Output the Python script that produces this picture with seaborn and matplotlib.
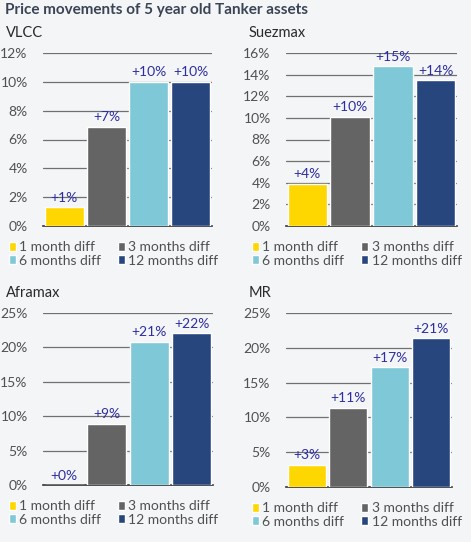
import seaborn as sns
import matplotlib.pyplot as plt
import matplotlib.ticker as ticker
from matplotlib.patches import Patch
import pandas as pd

TITLE = "Price movements of 5 year old Tanker assets"
periods = ["1 month diff", "3 months diff", "6 months diff", "12 months diff"]
colors = ["#ffd700", "#646464", "#7ec8d8", "#27467e"]

vessels = ["VLCC", "Suezmax", "Aframax", "MR"]
vlcc = [1.3, 6.9, 10.0, 10.0]
suezmax = [3.9, 10.1, 14.8, 13.5]
aframax = [0.0, 8.9, 20.8, 22.1]
mr = [3.2, 11.4, 17.2, 21.4]
ymax = [12, 16, 25, 25]
ystep = [2, 2, 5, 5]

BG = "#f3f5f7"
W, H = 471, 542


def panel(fig, box, name, values, top, step):
    # box = (left, top, right, bottom) in pixels
    l, t, r, b = box
    ax = fig.add_axes([l / W, 1 - b / H, (r - l) / W, (b - t) / H])
    ax.set_facecolor(BG)
    df = pd.DataFrame({"period": periods, "value": values})
    sns.barplot(df, x="period", y="value", hue="period", palette=colors,
                saturation=1, width=0.92, legend=False, ax=ax, zorder=3)
    ax.set_xlim(-0.5, 3.5)
    ax.set_ylim(0, top)
    ax.yaxis.set_major_locator(ticker.MultipleLocator(step))
    ax.yaxis.set_major_formatter(lambda y, _: f"{y:.0f}%")
    ax.grid(axis="y", color="#707070", linewidth=0.9, zorder=0)
    ax.set_axisbelow(True)
    for s in ["left", "right", "top"]:
        ax.spines[s].set_visible(False)
    ax.spines["bottom"].set_color("#333333")
    ax.spines["bottom"].set_linewidth(1.2)
    ax.set_xticks([])
    ax.set_xlabel("")
    ax.set_ylabel("")
    ax.tick_params(axis="y", length=0, labelsize=10, labelcolor="#505050",
                   pad=11)
    for i, v in enumerate(values):
        ax.text(i, v + top * 0.02, f"+{v:.0f}%", ha="center", va="bottom",
                fontsize=10, color="#2e2ea0")
    fig.text((l - 37) / W, 1 - (t - 13) / H, name, fontsize=10.5,
             color="#2a2a2a", ha="left", va="bottom")
    # legend fills column-wise, so order entries to read row by row
    order = [0, 2, 1, 3]
    handles = [Patch(facecolor=colors[i], label=periods[i]) for i in order]
    leg = fig.legend(handles=handles, ncol=2, loc="upper left",
                     bbox_to_anchor=((l - 34) / W, 1 - (b + 15) / H),
                     frameon=False, fontsize=10, handlelength=0.5,
                     handleheight=0.6, handletextpad=0.25, columnspacing=1.2,
                     labelspacing=0.12, borderaxespad=0, borderpad=0)
    for tx in leg.get_texts():
        tx.set_color("#505050")
    return ax


def main():
    sns.set_theme(style="white")
    plt.rcParams["font.family"] = ["Lato", "DejaVu Sans"]
    fig = plt.figure(figsize=(W / 100, H / 100), dpi=100)
    fig.patch.set_facecolor(BG)
    fig.text(5 / W, 1 - 3 / H, TITLE, fontsize=11, fontweight="bold",
             color="#3a4454", ha="left", va="top")
    boxes = [
        (43, 53, 212, 226),
        (286, 53, 457, 226),
        (43, 313, 213, 485),
        (286, 313, 452, 487),
    ]
    data = [vlcc, suezmax, aframax, mr]
    for box, name, vals, top, step in zip(boxes, vessels, data, ymax, ystep):
        panel(fig, box, name, vals, top, step)
    fig.savefig("out.png", dpi=100, facecolor=BG)


if __name__ == "__main__":
    main()
